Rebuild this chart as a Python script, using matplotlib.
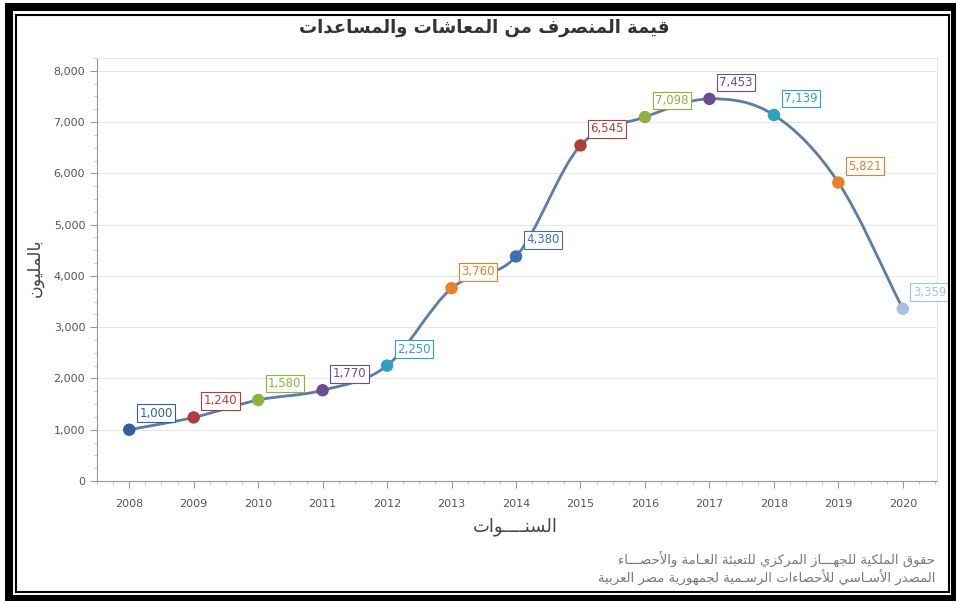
#!/usr/bin/env python3
import numpy as np
import matplotlib
matplotlib.use("Agg")
import matplotlib.pyplot as plt
from matplotlib.path import Path
from matplotlib.patches import PathPatch, Rectangle
from matplotlib.ticker import MultipleLocator, FuncFormatter

# data
years = [2008, 2009, 2010, 2011, 2012, 2013, 2014, 2015, 2016, 2017, 2018, 2019, 2020]
values = [1000, 1240, 1580, 1770, 2250, 3760, 4380, 6545, 7098, 7453, 7139, 5821, 3359]
point_colors = ["#2f5f9c", "#b23c3c", "#8db13e", "#6a4c90", "#2f9fc2", "#e8802a",
                "#3e6fb2", "#b23c3c", "#8db13e", "#6a4c90", "#2f9fc2", "#e8802a", "#a6c0de"]

TITLE = "قيمة المنصرف من المعاشات والمساعدات"
Y_LABEL = "بالمليون"
X_LABEL = "السنــــوات"
FOOT_1 = "حقوق الملكية للجهـــاز المركزي للتعبئة العـامة والأحصـــاء"
FOOT_2 = "المصدر الأسـاسي للأحصاءات الرسـمية لجمهورية مصر العربية"

# matplotlib has no arabic shaping, so map letters to presentation forms by hand
LETTERS = "ءآأؤإئابةتثجحخدذرزسشصضطظعغفقكلمنهوىي"
NFORMS = [1, 2, 2, 2, 2, 4, 2, 4, 2, 4, 4, 4, 4, 4, 2, 2, 2, 2,
          4, 4, 4, 4, 4, 4, 4, 4, 4, 4, 4, 4, 4, 4, 4, 2, 2, 4]
FORMS = {}
cp = 0xFE80
for ch, n in zip(LETTERS, NFORMS):
    FORMS[ch] = (cp, n)
    cp += n
LAMALEF = {"آ": 0xFEF5, "أ": 0xFEF7, "إ": 0xFEF9, "ا": 0xFEFB}
TATWEEL = "ـ"


def joins_fwd(c):
    return c == TATWEEL or (c in FORMS and FORMS[c][1] == 4)


def joins_back(c):
    return c == TATWEEL or (c in FORMS and c != "ء")


def shape(s):
    glyphs = []
    prev = False
    i = 0
    while i < len(s):
        c = s[i]
        nxt = s[i + 1] if i + 1 < len(s) else ""
        if c == "ل" and nxt in LAMALEF:
            glyphs.append(chr(LAMALEF[nxt] + (1 if prev else 0)))
            prev = False
            i += 2
            continue
        if c in FORMS:
            base, n = FORMS[c]
            nj = joins_fwd(c) and joins_back(nxt)
            if n == 1:
                form = 0
            elif n == 2:
                form = 1 if prev else 0
            else:
                form = {(False, False): 0, (True, False): 1, (False, True): 2, (True, True): 3}[(prev, nj)]
            glyphs.append(chr(base + form))
            prev = joins_fwd(c)
        else:
            glyphs.append(c)
            prev = (c == TATWEEL)
        i += 1
    return "".join(reversed(glyphs))


fig = plt.figure(figsize=(9.56, 6.01), dpi=100)
W, H = 956.0, 601.0
ax = fig.add_axes([97 / W, 1 - 481 / H, (937 - 97) / W, (481 - 58) / H])

# smoothed line (catmull-rom as bezier segments, drawn by matplotlib)
pts = np.column_stack([years, values]).astype(float)
tang = np.zeros_like(pts)
tang[1:-1] = (pts[2:] - pts[:-2]) / 2
tang[0] = pts[1] - pts[0]
tang[-1] = pts[-1] - pts[-2]
verts = [tuple(pts[0])]
codes = [Path.MOVETO]
for i in range(len(pts) - 1):
    verts += [tuple(pts[i] + tang[i] / 3), tuple(pts[i + 1] - tang[i + 1] / 3), tuple(pts[i + 1])]
    codes += [Path.CURVE4] * 3
ax.add_patch(PathPatch(Path(verts, codes), fc="none", ec="#5b7ca6", lw=2.0, zorder=3))

ax.scatter(years, values, s=80, c=point_colors, edgecolors="none", zorder=4)

for x, y, c in zip(years, values, point_colors):
    ax.annotate(f"{y:,}", (x, y), xytext=(10, 10), textcoords="offset pixels",
                ha="left", va="bottom", fontsize=8.5, color=c, zorder=5,
                bbox=dict(boxstyle="square,pad=0.2", fc="white", ec=c, lw=0.8),
                annotation_clip=False)

ax.set_xlim(2007.5, 2020.53)
ax.set_ylim(0, 8250)
ax.set_xticks(years)
ax.xaxis.set_minor_locator(MultipleLocator(0.25))
ax.yaxis.set_major_locator(MultipleLocator(1000))
ax.yaxis.set_minor_locator(MultipleLocator(250))
ax.yaxis.set_major_formatter(FuncFormatter(lambda v, p: f"{int(v):,}"))
ax.tick_params(axis="both", which="major", labelsize=8, labelcolor="#555555",
               color="#999999", length=5, width=0.8)
ax.tick_params(axis="both", which="minor", color="#bbbbbb", length=2, width=0.6)
ax.tick_params(axis="x", pad=8)
ax.grid(axis="y", color="#e6e6e6", lw=0.8)
ax.set_axisbelow(True)
for side in ["left", "bottom"]:
    ax.spines[side].set_color("#999999")
for side in ["top", "right"]:
    ax.spines[side].set_color("#e4e4e4")

fig.text(484 / W, 1 - 28 / H, shape(TITLE), ha="center", va="center",
         fontsize=13, fontweight="bold", color="#333333")
fig.text(35 / W, 1 - 268 / H, shape(Y_LABEL), ha="center", va="center",
         rotation=90, fontsize=12.5, color="#444444")
fig.text(515 / W, 1 - 527 / H, shape(X_LABEL), ha="center", va="center",
         fontsize=13, color="#444444")
fig.text(935 / W, 1 - 560 / H, shape(FOOT_1), ha="right", va="center",
         fontsize=9.5, color="#777777")
fig.text(935 / W, 1 - 578 / H, shape(FOOT_2), ha="right", va="center",
         fontsize=9.5, color="#777777")

# double frame round the picture
fig.add_artist(Rectangle((9 / W, 1 - 599 / H), (955 - 9) / W, (599 - 7) / H,
                         transform=fig.transFigure, fill=False, ec="black", lw=5.8))
fig.add_artist(Rectangle((16 / W, 1 - 592 / H), (949 - 16) / W, (592 - 15) / H,
                         transform=fig.transFigure, fill=False, ec="black", lw=1.5))

fig.savefig("out.png", dpi=100)
